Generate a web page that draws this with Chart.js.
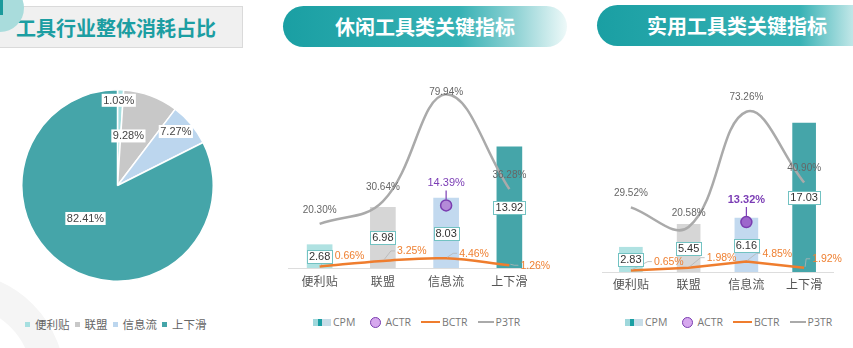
<!DOCTYPE html>
<html lang="zh">
<head>
<meta charset="UTF-8" />
<title>工具行业消耗与关键指标</title>
<script src="https://cdn.jsdelivr.net/npm/chart.js@4.4.1/dist/chart.umd.min.js"></script>
<style>
  body {
    margin: 0;
    width: 853px;
    height: 348px;
    overflow: hidden;
    position: relative;
    background: #fff;
    font-family: 'Liberation Sans', 'Noto Sans CJK SC', sans-serif;
  }
  .abs { position: absolute; }
  .ring {
    left: -155px; top: 272px; width: 156px; height: 156px;
    border: 32px solid #f5f5f5; border-radius: 50%;
  }
  .titlebox {
    left: -1px; top: 6px; width: 242px; height: 40px;
    background: #f0f0f0; border: 1px solid #dadada;
  }
  .titlebox span {
    position: absolute; left: 16px; top: 6px;
    font: bold 20px 'Noto Sans CJK SC', sans-serif; color: #1c9ea2;
  }
  .dot { left: -24px; top: -16px; width: 48px; height: 48px; border-radius: 50%; background: #a9dcdc; }
  .dotbar { left: 0; top: 0; width: 3px; height: 15px; background: #1a9a9c; }
  .pill {
    height: 41px; border-radius: 21px;
    color: #fff; font: bold 20px 'Noto Sans CJK SC', sans-serif;
    line-height: 41px; box-sizing: border-box;
  }
  .pill.mid {
    left: 283px; top: 6px; width: 284px; text-align: center;
    background: linear-gradient(to right, #1a9fa3 0%, #36b1b4 62%, #8fd2d4 82%, #eef9f9 100%);
  }
  .pill.right {
    left: 597px; top: 5px; width: 290px; padding-left: 50px;
    background: linear-gradient(to right, #1a9fa3 0%, #38b2b5 70%, #bfe6e7 88%);
  }
  .legend {
    display: flex; align-items: center; height: 14px;
    font: 10.5px 'Open Sans', sans-serif; color: #777; white-space: nowrap;
  }
  .pielegend { left: 25px; top: 317px; font: 11.5px 'Noto Sans CJK SC', sans-serif; color: #666; }
  .sq { width: 5px; height: 5px; margin-right: 5px; }
  .pielegend .txt { margin-right: 5px; }
  .cpm { width: 18px; height: 7px; display: flex; margin-right: 2px; }
  .cpm i { display: block; height: 7px; }
  .circ { width: 9px; height: 9px; border-radius: 50%; background: #d6a8ee; border: 1px solid #7a3db0; margin: 0 4px 0 15px; }
  .ln { height: 2px; margin: 0 2px 0 10px; }
</style>
</head>
<body>
<div class="abs ring"></div>
<div class="abs titlebox"><span>工具行业整体消耗占比</span></div>
<div class="abs dot"></div>
<div class="abs dotbar"></div>
<div class="abs pill mid">休闲工具类关键指标</div>
<div class="abs pill right">实用工具类关键指标</div>

<canvas id="pie" class="abs" width="193" height="193" style="left:21px;top:89px"></canvas>
<canvas id="leisure" class="abs" width="290" height="240" style="left:280px;top:60px"></canvas>
<canvas id="utility" class="abs" width="263" height="244" style="left:590px;top:60px"></canvas>

<div class="abs legend pielegend" id="pieLegend"></div>
<div class="abs legend" id="leisureLegend" style="left:313px;top:315px"></div>
<div class="abs legend" id="utilityLegend" style="left:625px;top:315px"></div>

<script>
const FONT = "'Liberation Sans', 'Noto Sans CJK SC', sans-serif";

const pieLabels = ['便利贴', '联盟', '信息流', '上下滑'];
const pieValues = [1.03, 9.28, 7.27, 82.41];

const categories = ['便利贴', '联盟', '信息流', '上下滑'];
const seriesNames = ['CPM', 'ACTR', 'BCTR', 'P3TR'];

const leisureCPM = [2.68, 6.98, 8.03, 13.92];
const leisureACTR = [null, null, 14.39, null];
const leisureBCTR = [0.66, 3.25, 4.46, 1.26];
const leisureP3TR = [20.30, 30.64, 79.94, 36.28];

const utilityCPM = [2.83, 5.45, 6.16, 17.03];
const utilityACTR = [null, null, 13.32, null];
const utilityBCTR = [0.65, 1.98, 4.85, 1.92];
const utilityP3TR = [29.52, 20.58, 73.26, 40.90];

const sliceColors = ['#a6dfe0', '#c8c8c8', '#bcd6ee', '#45a5a9'];
const barColors = ['#b0e2e2', '#d6d6d6', '#c2d9ef', '#45a5a9'];

Chart.defaults.font.family = FONT;

// white boxes with the share of each slice
const pieLabelPlugin = {
  id: 'pieLabels',
  afterDatasetsDraw(chart, args, o) {
    const ctx = chart.ctx;
    const vals = chart.data.datasets[0].data;
    ctx.save();
    ctx.font = '11px ' + FONT;
    ctx.textAlign = 'center';
    ctx.textBaseline = 'middle';
    chart.getDatasetMeta(0).data.forEach((arc, i) => {
      const p = arc.getProps(['x', 'y', 'startAngle', 'endAngle', 'outerRadius'], true);
      const a = (p.startAngle + p.endAngle) / 2 + o.shift[i] * Math.PI / 180;
      const r = p.outerRadius * o.factor[i];
      const x = p.x + Math.cos(a) * r, y = p.y + Math.sin(a) * r;
      const t = vals[i].toFixed(2) + '%';
      const w = ctx.measureText(t).width + 3;
      ctx.fillStyle = '#fff';
      ctx.fillRect(x - w / 2, y - 6.5, w, 13);
      ctx.fillStyle = '#444';
      ctx.fillText(t, x, y + 0.5);
    });
    ctx.restore();
  }
};

new Chart(document.getElementById('pie'), {
  type: 'pie',
  data: {
    labels: pieLabels,
    datasets: [{ data: pieValues, backgroundColor: sliceColors, borderColor: '#fff', borderWidth: 1.5 }]
  },
  options: {
    responsive: false,
    animation: false,
    plugins: {
      legend: { display: false },
      tooltip: { enabled: false },
      pieLabels: { factor: [0.89, 0.53, 0.83, 0.48], shift: [-1, -8, -3, 12.5] }
    }
  },
  plugins: [pieLabelPlugin]
});

// value boxes, percentage labels and leader lines
const comboLabelPlugin = {
  id: 'comboLabels',
  afterDatasetsDraw(chart, args, o) {
    const ctx = chart.ctx;
    const area = chart.chartArea;
    const ds = chart.data.datasets;
    ctx.save();
    ctx.textBaseline = 'middle';

    // BCTR labels
    ctx.font = '10.5px ' + FONT;
    ctx.textAlign = 'left';
    chart.getDatasetMeta(2).data.forEach((p, i) => {
      const lx = p.x + o.bctr[i][0], ly = p.y + o.bctr[i][1];
      ctx.strokeStyle = '#b5b5b5';
      ctx.lineWidth = 0.8;
      ctx.beginPath();
      ctx.moveTo(p.x + 1, p.y - 1);
      ctx.lineTo(lx - 6, ly);
      ctx.lineTo(lx - 2, ly);
      ctx.stroke();
      ctx.fillStyle = '#ef8133';
      ctx.fillText(ds[2].data[i].toFixed(2) + '%', lx, ly + 0.5);
    });

    // CPM boxes
    ctx.font = '11px ' + FONT;
    ctx.textAlign = 'center';
    chart.getDatasetMeta(0).data.forEach((b, i) => {
      const t = ds[0].data[i].toFixed(2);
      const cy = (b.y + b.base) / 2;
      const w = Math.round(ctx.measureText(t).width + 4);
      const x0 = Math.round(b.x - w / 2) + 0.5, y0 = Math.round(cy - 6.5) + 0.5;
      ctx.fillStyle = '#fff';
      ctx.fillRect(x0, y0, w, 13);
      ctx.strokeStyle = '#72c2c2';
      ctx.lineWidth = 1;
      ctx.strokeRect(x0, y0, w, 13);
      ctx.fillStyle = '#333';
      ctx.fillText(t, b.x, cy + 0.5);
    });

    // P3TR labels
    ctx.font = '10px ' + FONT;
    ctx.fillStyle = '#666';
    chart.getDatasetMeta(3).data.forEach((p, i) => {
      ctx.fillText(ds[3].data[i].toFixed(2) + '%', p.x, Math.max(p.y - 14, area.top - 2));
    });

    // ACTR label
    chart.getDatasetMeta(1).data.forEach((p, i) => {
      const v = ds[1].data[i];
      if (v == null) return;
      ctx.strokeStyle = '#7b3db5';
      ctx.lineWidth = 1.2;
      ctx.beginPath();
      ctx.moveTo(p.x, p.y - 6);
      ctx.lineTo(p.x, p.y - 15);
      ctx.stroke();
      ctx.font = (o.actrBold ? 'bold ' : '') + '11px ' + FONT;
      ctx.fillStyle = '#7b3db5';
      ctx.fillText(v.toFixed(2) + '%', p.x, p.y - 22);
    });
    ctx.restore();
  }
};

function makeCombo(id, cpm, actr, bctr, p3tr, cfg) {
  new Chart(document.getElementById(id), {
    data: {
      labels: categories,
      datasets: [
        { type: 'bar', label: seriesNames[0], data: cpm, backgroundColor: barColors,
          barThickness: cfg.barThickness, yAxisID: 'y', order: 4 },
        { type: 'line', label: seriesNames[1], data: actr, showLine: false, yAxisID: 'y2',
          pointRadius: 5.5, pointBackgroundColor: cfg.actrFill, pointBorderColor: '#7a3db0',
          pointBorderWidth: 1.5, order: 1 },
        { type: 'line', label: seriesNames[2], data: bctr, borderColor: '#ef7d2e', borderWidth: 2.5,
          tension: cfg.bctrTension, pointRadius: 0, yAxisID: 'y1', order: 2, clip: false },
        { type: 'line', label: seriesNames[3], data: p3tr, borderColor: '#aaaaaa', borderWidth: 2.5,
          tension: 0.4, pointRadius: 0, yAxisID: 'y1', order: 3, clip: false }
      ]
    },
    options: {
      responsive: false,
      animation: false,
      layout: { padding: cfg.padding },
      plugins: {
        legend: { display: false },
        tooltip: { enabled: false },
        comboLabels: { bctr: cfg.bctrOffsets, actrBold: cfg.actrBold }
      },
      scales: {
        x: {
          grid: { display: false, drawTicks: false },
          border: { display: true, color: '#dddddd' },
          ticks: { color: '#555', font: { size: 12 }, padding: cfg.tickPad },
          afterFit: s => { s.height = 30; }
        },
        y: { display: false, min: 0, max: 20 },
        y1: { display: false, min: 0, max: 80 },
        y2: { display: false, min: 0, max: cfg.actrMax }
      }
    },
    plugins: [comboLabelPlugin]
  });
}

makeCombo('leisure', leisureCPM, leisureACTR, leisureBCTR, leisureP3TR, {
  padding: { left: 8, right: 29, top: 34, bottom: 2 },
  barThickness: 25, actrMax: 40, bctrTension: 0.4, actrBold: false, actrFill: '#b48ad8', tickPad: 7,
  bctrOffsets: [[15, -11], [14, -10], [13, -5], [11, 0]]
});

makeCombo('utility', utilityCPM, utilityACTR, utilityBCTR, utilityP3TR, {
  padding: { left: 12, right: 20, top: 37, bottom: 2 },
  barThickness: 23, actrMax: 46.7, bctrTension: 0, actrBold: true, actrFill: '#9d67cc', tickPad: 6,
  bctrOffsets: [[23, -9], [18, -10], [16, -8], [8, -9]]
});

// legends
document.getElementById('pieLegend').innerHTML = pieLabels.map((l, i) =>
  `<span class="sq" style="background:${sliceColors[i]}"></span><span class="txt">${l}</span>`).join('');

const comboLegend =
  `<span class="cpm"><i style="width:5px;background:#9fd8dc"></i><i style="width:4px;background:#1a9fa3"></i><i style="width:9px;background:#c8dde8"></i></span><span>${seriesNames[0]}</span>` +
  `<span class="circ"></span><span>${seriesNames[1]}</span>` +
  `<span class="ln" style="width:19px;background:#ef7d2e"></span><span>${seriesNames[2]}</span>` +
  `<span class="ln" style="width:16px;height:1.5px;background:#aaa"></span><span>${seriesNames[3]}</span>`;
document.getElementById('leisureLegend').innerHTML = comboLegend;
document.getElementById('utilityLegend').innerHTML = comboLegend;
</script>
</body>
</html>
